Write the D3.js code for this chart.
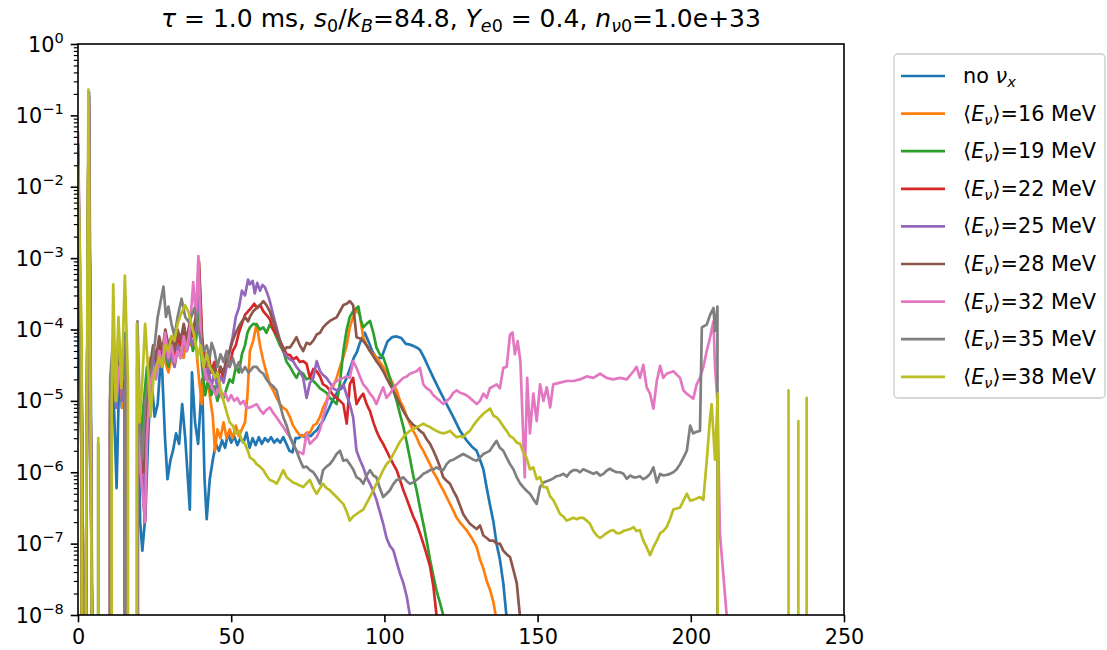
<!DOCTYPE html>
<html><head><meta charset="utf-8">
<script src="https://cdn.jsdelivr.net/npm/d3@7"></script>
<style>body{margin:0;background:#fff}svg{display:block}text{font-family:"DejaVu Sans",sans-serif;fill:#000}</style>
</head><body><svg id="c" width="1107" height="650"></svg>
<script>
// ---------- data (x, value); 0 = below the log range ----------
const xTicks = [0, 50, 100, 150, 200, 250];
const yTickExps = [0, -1, -2, -3, -4, -5, -6, -7, -8];
const seriesLabels = ["no νx", "16", "19", "22", "25", "28", "32", "35", "38"];
const seriesColors = ["#1f77b4","#ff7f0e","#2ca02c","#d62728","#9467bd","#8c564b","#e377c2","#7f7f7f","#bcbd22"];

const noNuX = [[0,1.8e-4],[1.3,1e-6],[1.9,0],[2.3,1e-10],[3.6,2.1e-1],[4.9,1e-10],[6,0],[6.6,2.5e-6],[7.4,0],[10,0],[11,2e-5],[11.8,7e-6],[12.6,6e-7],[13.5,3e-5],[14.3,8e-6],[15.3,9e-5],[16.3,0],[18.5,0],[19.3,3e-5],[20.3,2e-7],[21,8e-8],[22,2.5e-7],[23,4e-6],[24,2e-5],[25,6e-6],[26,9e-6],[27.2,5e-5],[28.4,3e-6],[29.2,8e-7],[30.2,1.5e-6],[31,2e-6],[32,3.5e-6],[33,2.5e-6],[34,9e-6],[35,3e-6],[36.5,3e-7],[37.2,2.5e-5],[38.2,5e-6],[39.2,2.5e-6],[40.5,2e-5],[41.3,8e-7],[42,2.2e-7],[43,8e-7],[44,1.5e-6],[45,2.5e-6],[46,2e-6],[47,2.8e-6],[48,2.2e-6],[49,3.5e-6],[50,2.6e-6],[51,3.2e-6],[52,2.4e-6],[53,3e-6],[54,2.6e-6],[55,3.6e-6],[56,2.2e-6],[57,3e-6],[58,2.4e-6],[59,3.1e-6],[60,2.5e-6],[61,3e-6],[62,2.7e-6],[63,3.1e-6],[64,2.6e-6],[65,2.9e-6],[66,2.6e-6],[67,3.1e-6],[68,2.5e-6],[69,2e-6],[70,1.9e-6],[71,3e-6],[72,3e-6],[73,3.3e-6],[74,3.1e-6],[75,3.3e-6],[76,3.2e-6],[77,3.6e-6],[78,3.9e-6],[79,4.6e-6],[80,5.3e-6],[81,6.5e-6],[82,8e-6],[83,1e-5],[84,1.2e-5],[85,1.4e-5],[86,1.5e-5],[87,1.8e-5],[88,2.3e-5],[89,3e-5],[90,4e-5],[91,4.8e-5],[92,6.5e-5],[93.6,9e-5],[95,6.5e-5],[96,5e-5],[97.4,4e-5],[99,4e-5],[100,5.2e-5],[101,6.8e-5],[102.5,7.8e-5],[104,8e-5],[105.5,7.6e-5],[107,6.3e-5],[108,6.2e-5],[109.4,5.9e-5],[110.5,5.6e-5],[111.6,5.2e-5],[113,4e-5],[114,3.2e-5],[116,2.1e-5],[118,1.4e-5],[120.3,9e-6],[122.5,5.9e-6],[124.7,3.8e-6],[126.8,2.8e-6],[128.5,2.3e-6],[130.1,2e-6],[131.2,1.5e-6],[132.3,1.1e-6],[133.4,6e-7],[134.4,3.6e-7],[135.6,2e-7],[136.6,1e-7],[137.7,6e-8],[138.8,2.8e-8],[139.8,1e-8],[140.5,0]];

const e16 = [[0,3e-2],[1.2,2e-6],[1.8,0],[2.3,1e-10],[3.5,1.9e-1],[4.8,1e-10],[6,0],[9.5,0],[10.5,5e-6],[11.5,5e-5],[12.5,1.5e-5],[13.5,4e-5],[14.5,8e-6],[15.5,6e-5],[16.5,0],[18.5,0],[19.5,2e-5],[20.5,1e-6],[21.5,4e-6],[22.5,2e-5],[23.5,4e-5],[24.5,2.5e-5],[25.5,5e-5],[26.5,3e-5],[27.5,6e-5],[28.5,3.5e-5],[29.5,2.5e-5],[30.5,4e-5],[31.5,3e-5],[32.5,5e-5],[33.5,7e-5],[34.5,4e-5],[35.5,8e-5],[36.5,6e-5],[37.5,1.1e-4],[38.5,6e-5],[39.5,2e-5],[40.4,9e-6],[41.3,5e-5],[42.2,2.5e-5],[43,1.2e-5],[44,6e-6],[44.7,2e-6],[45.5,4e-6],[46.5,3e-6],[47.5,5e-6],[48.5,3e-6],[49.5,4e-6],[50.5,3e-6],[51.5,4.5e-6],[52.5,3.2e-6],[53.5,4e-6],[54.5,5e-6],[55.3,1.2e-5],[56.1,5e-5],[57.2,7e-5],[58.3,1.2e-4],[59.4,6e-5],[60.5,3.6e-5],[61.5,2.5e-5],[62.6,1.7e-5],[63.7,1.4e-5],[64.8,1.1e-5],[65.9,9e-6],[67,8e-6],[68,7.5e-6],[69.2,5.9e-6],[70.2,4.5e-6],[71.3,3.8e-6],[72.4,3.3e-6],[73.5,3.2e-6],[74.6,3.6e-6],[75.7,3.6e-6],[76.8,4.5e-6],[77.9,4.8e-6],[79,6e-6],[80,8.1e-6],[81.1,1e-5],[82.2,1.4e-5],[83.3,1.6e-5],[84.4,2.1e-5],[85.5,3e-5],[86.6,4.1e-5],[87.7,6e-5],[88.7,1.07e-4],[89.8,1.5e-4],[90.9,1.9e-4],[92,1.6e-4],[93.1,7.8e-5],[94.2,6e-5],[95.3,5e-5],[96.4,4.5e-5],[97.4,4.1e-5],[98.5,3.5e-5],[99.6,3e-5],[100.7,2.5e-5],[101.8,2.1e-5],[102.9,1.7e-5],[104,1.4e-5],[105.1,1e-5],[106.2,8.1e-6],[107.3,6e-6],[108.3,4.8e-6],[109.4,3.8e-6],[110.5,3.1e-6],[111.6,2.4e-6],[112.7,2e-6],[113.8,1.6e-6],[114.9,1.3e-6],[116,1e-6],[117,8.5e-7],[118.1,6.8e-7],[119.2,5.6e-7],[120.3,4.5e-7],[121.4,3.6e-7],[122.5,2.9e-7],[123.6,2.3e-7],[125,1.9e-7],[126.8,1.55e-7],[128.5,1.2e-7],[130.1,9e-8],[131.2,6e-8],[132.3,4.5e-8],[133.4,3e-8],[134.4,2.3e-8],[135.6,1.5e-8],[136.3,1e-8],[137,0]];

const e19 = [[0,3e-2],[1.2,2e-6],[1.8,0],[2.3,1e-10],[3.5,1.9e-1],[4.8,1e-10],[6,0],[9.5,0],[10.5,8e-6],[11.5,4e-5],[12.5,1e-5],[13.2,8e-5],[14.2,2e-5],[15.2,5e-5],[16.2,0],[18.5,0],[19.5,3e-5],[20.5,3e-6],[21.5,1e-5],[22.5,3e-5],[23.5,2e-5],[24.5,4e-5],[25.5,3e-5],[26.5,6e-5],[27.5,4e-5],[28.5,5e-5],[29.5,3e-5],[30.5,5e-5],[31.5,3.5e-5],[32.5,6e-5],[33.5,4e-5],[34.5,8e-5],[35.5,5e-5],[36.5,9e-5],[37.5,5e-5],[38.5,7e-5],[39.5,2e-4],[40.5,3e-5],[41.5,1.2e-5],[42.5,2e-5],[43.5,1.2e-5],[44.5,1.6e-5],[45.5,1e-5],[46.5,1.4e-5],[47.5,1.1e-5],[48.5,1.5e-5],[49.5,2e-5],[50.5,1.8e-5],[51.5,3e-5],[52.5,2.5e-5],[53.5,4.5e-5],[54.5,6e-5],[55.3,9e-5],[56.1,1.07e-4],[57.2,1.2e-4],[58.3,1.17e-4],[59.4,1e-4],[60.5,1.07e-4],[61.5,9e-5],[62.6,1.17e-4],[63.7,1e-4],[64.8,7.8e-5],[65.9,6e-5],[67,5e-5],[68.1,3.5e-5],[69.2,3e-5],[70.2,2.5e-5],[71.3,2.1e-5],[72.4,2.6e-5],[73.5,2.4e-5],[74.6,2e-5],[75.7,2.1e-5],[76.8,1.9e-5],[77.9,1.7e-5],[79,1.5e-5],[80,1.4e-5],[81.1,1.3e-5],[82.2,1.1e-5],[83.3,1e-5],[84.4,9e-6],[85.5,1.8e-5],[86.6,5e-5],[87.7,1e-4],[88.7,1.5e-4],[89.8,1.8e-4],[90.9,2e-4],[91.5,2.1e-4],[92.2,1.4e-4],[93.1,1.07e-4],[94.2,1.2e-4],[95.3,1.32e-4],[96.4,9e-5],[97.4,5.6e-5],[98.5,4.5e-5],[99.6,4.1e-5],[100.7,3e-5],[101.8,2.1e-5],[102.9,1.4e-5],[104,1e-5],[105.1,6.5e-6],[106.2,4.3e-6],[107.3,2.6e-6],[108.3,1.6e-6],[109.4,9e-7],[110.5,5.6e-7],[111.6,3.2e-7],[112.7,1.9e-7],[113.8,1.1e-7],[114.9,5.9e-8],[116,3.5e-8],[117,2.2e-8],[118.1,1.5e-8],[119.2,1e-8],[120,0]];

const e22 = [[0,3e-2],[1.2,2e-6],[1.8,0],[2.3,1e-10],[3.5,1.9e-1],[4.8,1e-10],[6,0],[9.5,0],[10.5,1e-5],[11.5,5e-5],[12.5,2e-5],[13.5,6e-5],[14.5,1.5e-5],[15.5,4e-5],[16.5,0],[18.5,0],[19.5,2e-5],[20.5,2e-6],[21.8,2e-7],[22.5,3e-6],[23.5,2e-5],[24.5,5e-5],[25.5,3e-5],[26.5,7e-5],[27.5,4e-5],[28.5,9e-5],[29.5,5e-5],[30.5,7e-5],[31.5,4e-5],[32.5,8e-5],[33.5,6e-5],[34.5,1e-4],[35.5,6e-5],[36.5,1.2e-4],[37.5,8e-5],[38.5,1.5e-4],[39.5,9e-4],[40.5,8e-5],[41.5,3e-5],[42.5,5e-5],[43.5,2.5e-5],[44.5,3.5e-5],[45.5,2e-5],[46.5,3e-5],[47.5,2e-5],[48.5,3.5e-5],[49.5,3e-5],[50.5,5e-5],[51.5,6e-5],[52.5,9e-5],[53.5,1.2e-4],[54.5,1.6e-4],[55.5,1.8e-4],[56.5,2e-4],[57.5,2.3e-4],[58.5,2e-4],[59.5,2.2e-4],[60.5,1.8e-4],[61.5,1.6e-4],[62.6,1.4e-4],[63.7,1e-4],[64.8,8.5e-5],[65.9,7e-5],[67,5.6e-5],[68.1,4.5e-5],[69.2,4.4e-5],[70.2,3.8e-5],[71.3,4.1e-5],[72.4,3.5e-5],[73.5,3.6e-5],[74.6,3.3e-5],[75.7,2.1e-5],[76.8,2.8e-5],[77.9,2.6e-5],[79,2.2e-5],[80,1.7e-5],[81.1,1.6e-5],[82.2,1.4e-5],[83.3,1.2e-5],[84.4,1.1e-5],[85.5,1e-5],[86.6,9e-6],[87.7,4.8e-6],[88.7,1.7e-5],[89.8,2.1e-5],[90.9,9e-6],[92,1.1e-5],[93.1,1.26e-5],[94.2,9e-6],[95.3,7.2e-6],[96.4,5e-6],[97.4,3.8e-6],[98.5,3e-6],[99.6,2.5e-6],[100.7,2e-6],[101.8,1.6e-6],[102.9,1.3e-6],[104,1.07e-6],[105.1,7.8e-7],[106.2,5.6e-7],[107.3,4.2e-7],[108.3,3.2e-7],[109.4,2.4e-7],[110.5,1.9e-7],[111.6,1.4e-7],[112.7,1e-7],[113.8,7e-8],[114.9,4.8e-8],[116,2.5e-8],[117,1e-8],[117.8,0]];

const e25 = [[0,3e-2],[1.2,2e-6],[1.8,0],[2.3,1e-10],[3.5,1.9e-1],[4.8,1e-10],[6,0],[9.5,0],[10.5,5e-6],[11.5,3e-5],[12.5,8e-6],[13.5,4e-5],[14.5,1e-5],[15.5,3e-5],[16.5,0],[18.5,0],[19.5,1.5e-5],[20.5,1e-6],[21.5,5e-7],[22.5,5e-6],[23.5,2e-5],[24.5,4e-5],[25.5,2.5e-5],[26.5,5e-5],[27.5,3e-5],[28.5,6e-5],[29.5,3.5e-5],[30.5,5e-5],[31.5,3e-5],[32.5,6e-5],[33.5,4e-5],[34.5,7e-5],[35.5,5e-5],[36.5,8e-5],[37.5,6e-5],[38.5,1e-4],[39.5,4e-4],[40.5,5e-5],[41.5,2e-5],[42.5,3e-5],[43.5,1.5e-5],[44.5,2.5e-5],[45.5,1.5e-5],[46.5,2.2e-5],[47.5,1.8e-5],[48.5,3e-5],[49.5,5e-5],[50.5,8e-5],[51.5,1.5e-4],[52.5,2e-4],[53.5,3.5e-4],[54.5,3e-4],[55.5,5e-4],[56.1,4.3e-4],[57,4.8e-4],[57.7,3.2e-4],[58.5,4.5e-4],[59.4,3.5e-4],[60.2,4.2e-4],[61,3.9e-4],[61.8,3.2e-4],[62.6,2.5e-4],[63.7,1.6e-4],[64.8,1.07e-4],[65.9,7e-5],[67,5e-5],[68.1,4.2e-5],[69.2,3.8e-5],[70.2,3.6e-5],[71.3,3e-5],[72.4,2.6e-5],[73.5,2.1e-5],[74.6,1.1e-5],[75.7,1.8e-5],[76.8,2.1e-5],[77.9,3.6e-5],[79,2.6e-5],[80,2.3e-5],[81.1,2.1e-5],[82.2,1.8e-5],[83.3,1.5e-5],[84.4,1.4e-5],[85.5,1.5e-5],[86.6,1.7e-5],[87.7,1.2e-5],[88.7,9e-6],[89.8,5.9e-6],[90.9,2e-6],[92,1.5e-6],[93.1,1.17e-6],[94.2,8.5e-7],[95.3,6.9e-7],[96.4,5.4e-7],[97.4,4.1e-7],[98.5,2.8e-7],[99.6,1.9e-7],[100.7,1.2e-7],[101.8,9.3e-8],[102.9,8.1e-8],[104,5.5e-8],[105.1,3.8e-8],[106.2,2.8e-8],[107.3,1.8e-8],[108.3,1e-8],[109,0]];

const e28 = [[0,4e-2],[1.3,3e-6],[1.9,0],[2.3,1e-10],[3.5,1.9e-1],[4.8,1e-10],[6,0],[9.5,0],[10.5,1.2e-5],[11.5,6e-5],[12.5,1.2e-5],[13.5,5e-5],[14.5,1.5e-5],[15.5,5e-5],[16.5,0],[18.5,0],[19.5,2.5e-5],[20.5,3e-6],[21.5,1e-6],[22.5,8e-6],[23.5,3e-5],[24.5,6e-5],[25.5,4e-5],[26.5,8e-5],[27.5,5e-5],[28.5,1e-4],[29.5,6e-5],[30.5,8e-5],[31.5,5e-5],[32.5,1e-4],[33.5,7e-5],[34.5,1.2e-4],[35.5,7e-5],[36.5,1.3e-4],[37.5,9e-5],[38.5,1.6e-4],[39.5,7e-4],[40.5,6e-5],[41.5,3e-5],[42.5,4e-5],[43.5,2.5e-5],[44.5,3e-5],[45.5,2.2e-5],[46.5,3e-5],[47.5,2.5e-5],[48.5,4e-5],[49.5,5e-5],[50.5,7e-5],[51.5,9e-5],[52.5,1.1e-4],[53.5,1.3e-4],[54.5,1.5e-4],[55.5,1.3e-4],[56.1,1.5e-4],[57.2,1.8e-4],[58.3,2e-4],[59.4,2.2e-4],[60.5,2.5e-4],[61.5,2.2e-4],[62.6,1.8e-4],[63.7,1.3e-4],[64.8,9.5e-5],[65.9,7e-5],[67,5e-5],[68.1,5.6e-5],[69.2,5.6e-5],[70.2,6.5e-5],[71.3,7.8e-5],[72.4,6e-5],[73.5,5e-5],[74.6,6.5e-5],[75.7,6.2e-5],[76.8,7e-5],[77.9,8.5e-5],[79,9e-5],[80,1.07e-4],[81.1,1.2e-4],[82.2,1.32e-4],[83.3,1.4e-4],[84.4,1.48e-4],[85.5,1.8e-4],[86.6,2.2e-4],[87.7,2.3e-4],[88.7,2.5e-4],[89.8,2.2e-4],[90.9,7.8e-5],[92,7.5e-5],[93.1,6.9e-5],[94.2,6e-5],[95.3,5e-5],[96.4,4.2e-5],[97.4,3.6e-5],[98.5,3.1e-5],[99.6,2.6e-5],[100.7,2.1e-5],[101.8,1.7e-5],[102.9,1.4e-5],[104,1.12e-5],[105.1,9e-6],[106.2,7.2e-6],[107.3,6e-6],[108.3,5.2e-6],[109.4,4.6e-6],[110.5,4.3e-6],[111.6,3.8e-6],[112.7,3.5e-6],[113.8,2.9e-6],[114.9,2.5e-6],[116,2e-6],[117,1.6e-6],[118.1,1.2e-6],[119.2,8.5e-7],[120.3,7.6e-7],[121.4,6.9e-7],[122.5,5.5e-7],[123.6,4.5e-7],[124.7,3.4e-7],[125.7,2.6e-7],[126.8,2.2e-7],[127.9,1.9e-7],[130.1,1.6e-7],[131.2,1.8e-7],[132.3,1.3e-7],[133.4,1.2e-7],[134.4,1.1e-7],[135.6,1.1e-7],[136.6,1e-7],[137.7,1e-7],[138.8,8e-8],[140,7e-8],[141,6.5e-8],[142.1,4.3e-8],[143.2,2.8e-8],[144.2,1e-8],[145,0]];

const e32 = [[0,6e-2],[1.5,3e-6],[2,0],[2.3,1e-10],[3.5,1.9e-1],[4.8,1e-10],[6,0],[9.5,0],[10.5,1e-5],[11.5,4e-5],[12.5,1e-5],[13.5,3e-5],[14.5,2e-5],[15.5,6e-5],[16.5,0],[18.5,0],[19.5,1e-5],[20.5,1e-6],[21.9,2e-7],[22.5,3e-6],[23.5,1.5e-5],[24.5,3e-5],[25.5,2e-5],[26.5,5e-5],[27.5,3e-5],[28.4,9e-5],[29.5,4e-5],[30.5,6e-5],[31.5,3.5e-5],[32.5,5e-5],[33.5,4e-5],[34.5,8e-5],[35.5,5e-5],[36.5,1e-4],[37.6,4.6e-4],[38.5,1.5e-4],[39.3,1.07e-3],[40.2,6e-5],[41,3e-5],[42,2e-5],[43,1.8e-5],[44,1.5e-5],[45,1.2e-5],[46,1.5e-5],[47,1.1e-5],[48,1.3e-5],[49,1e-5],[50,1.2e-5],[51,1e-5],[52,1.1e-5],[53,9e-6],[54,1e-5],[55,8e-6],[56.1,8.1e-6],[57.2,8.5e-6],[58.3,9e-6],[59.4,7.5e-6],[60.5,6.6e-6],[61.5,7.5e-6],[62.6,8.1e-6],[63.7,6.8e-6],[64.8,5.9e-6],[65.9,5e-6],[67,4.3e-6],[68.1,3.6e-6],[69.2,3.1e-6],[70.2,2.5e-6],[71.3,2e-6],[72.4,1.9e-6],[73.5,1.8e-6],[74.6,3.5e-6],[75.7,2.5e-6],[76.8,2.8e-6],[77.9,3.1e-6],[79,4e-6],[80,5.9e-6],[81.1,9e-6],[82.2,1.4e-5],[83.3,1.7e-5],[84.4,1.9e-5],[85.5,2e-5],[86.6,2.1e-5],[87.7,2.2e-5],[88.7,2.1e-5],[89.8,3.6e-5],[90.9,2.9e-5],[92,2.2e-5],[93.1,1.7e-5],[94.2,1.5e-5],[95.3,1.26e-5],[96.4,1.1e-5],[97.4,9e-6],[98.5,1.2e-5],[99.6,1.55e-5],[100.7,1.1e-5],[101.8,1.26e-5],[102.9,1.5e-5],[104,1.7e-5],[105.1,1.9e-5],[106.2,2.1e-5],[107.3,2.2e-5],[108.3,2.4e-5],[109.4,2.5e-5],[110.5,2.6e-5],[111.6,2.9e-5],[112.7,1.7e-5],[113.8,1.5e-5],[114.9,1.4e-5],[116,1.2e-5],[117,1.1e-5],[118.1,1e-5],[119.2,9e-6],[120.3,1e-5],[121.4,1.1e-5],[122.5,1.3e-5],[123.6,1.4e-5],[124.7,1.3e-5],[125.7,1.26e-5],[126.8,1.2e-5],[127.9,1.1e-5],[129,1e-5],[130.1,9e-6],[131.2,1e-5],[132.3,1.26e-5],[133.4,1.1e-5],[134.4,1.5e-5],[135.6,1.6e-5],[136.6,1.7e-5],[137.7,1.5e-5],[138.8,2.9e-5],[139.9,3e-5],[141,8.5e-5],[141.8,9.1e-5],[142.6,4.5e-5],[143.5,6.9e-5],[144.4,3.5e-5],[145.8,8.5e-7],[146.6,2.1e-5],[147.5,3.5e-6],[148.6,1.26e-5],[149.7,5.2e-6],[150.8,1.7e-5],[151.9,1e-5],[153,1.55e-5],[154.1,8.1e-6],[155.1,1.7e-5],[157.3,1.8e-5],[159.5,1.9e-5],[161.7,1.9e-5],[163.8,2e-5],[166,2.2e-5],[168.2,2.1e-5],[170.4,2.4e-5],[172.5,2.1e-5],[174.7,2e-5],[176.9,2.1e-5],[179.1,2e-5],[181.3,2.6e-5],[182.3,3e-5],[183.4,2.1e-5],[184.5,3.2e-5],[185.6,1.55e-5],[186.7,1.26e-5],[187.8,7.8e-6],[188.9,1.9e-5],[190,3.1e-5],[191,2.1e-5],[192.1,2.4e-5],[194.3,2.6e-5],[196.5,2.1e-5],[197.6,1.4e-5],[198.7,1.26e-5],[200.8,1.07e-5],[201.9,1.7e-5],[203,2.1e-5],[204.1,3e-5],[205.2,5e-5],[206.3,7.8e-5],[207.4,1.3e-4],[207.9,3e-5],[208.7,1e-5],[209.5,1.4e-7],[211.7,1e-8],[212.3,0]];

const e35 = [[0,4e-2],[1.4,3e-6],[1.9,0],[2.3,1e-10],[3.5,1.9e-1],[4.8,1e-10],[6,0],[9.5,0],[10.5,2e-5],[11.5,8e-5],[12.5,3e-5],[13.2,6e-5],[14.5,2e-5],[15.5,7e-5],[16.5,0],[18.5,0],[19.4,1.3e-4],[20.3,4e-6],[21,1.5e-6],[22,1e-5],[23,2e-5],[24,2.8e-5],[25,6e-5],[26,1.5e-4],[27,2.5e-4],[27.9,4e-4],[28.7,1.5e-4],[29.5,2.1e-4],[30.5,1.2e-4],[31.5,8e-5],[32.5,1.5e-4],[33.8,2.7e-4],[35,1.5e-4],[36,1.3e-4],[37,1.5e-4],[38,2e-4],[39,1.2e-4],[40,7e-5],[41,5e-5],[42,6e-5],[43,4e-5],[43.6,6.5e-5],[44.5,5e-5],[45.5,3e-5],[46.5,4.5e-5],[47.5,3.5e-5],[48.5,5e-5],[49.5,3e-5],[50.5,4e-5],[51.5,2.8e-5],[52.5,3.5e-5],[53.5,2.5e-5],[54.5,3e-5],[55.6,2.5e-5],[56.1,2.6e-5],[57.2,3e-5],[58.3,3e-5],[59.4,2.6e-5],[60.5,2.4e-5],[61.5,2e-5],[62.6,1.75e-5],[63.7,1.6e-5],[64.8,1.4e-5],[65.9,9e-6],[67,5.9e-6],[68.1,4.5e-6],[69.2,3.1e-6],[70.2,2.5e-6],[71.3,2e-6],[72.4,1.5e-6],[73.5,1.17e-6],[74.6,1.2e-6],[75.7,1.07e-6],[76.8,1e-6],[77.9,8.5e-7],[79,6.9e-7],[80,1.07e-6],[81.1,1.2e-6],[82.2,1.3e-6],[83.3,1.5e-6],[84.4,1.8e-6],[85.5,2e-6],[86.6,1.45e-6],[87.7,1.5e-6],[88.7,1.3e-6],[89.8,1.1e-6],[90.9,8.5e-7],[92,8e-7],[93.1,6.9e-7],[94.2,9e-7],[95.3,1.07e-6],[96.4,9e-7],[97.4,8.5e-7],[98.5,6e-7],[99.6,4.5e-7],[100.7,5e-7],[101.8,5.6e-7],[102.9,6.8e-7],[104,7.8e-7],[105.1,8e-7],[106.2,8.5e-7],[107.3,7.5e-7],[108.3,6.9e-7],[109.4,7.2e-7],[110.5,7.8e-7],[111.6,8.5e-7],[112.7,9.5e-7],[113.8,1e-6],[114.9,1.07e-6],[116,1.1e-6],[117,1.17e-6],[118.1,1.1e-6],[119.2,1.07e-6],[120.3,1.3e-6],[121.4,1.45e-6],[122.5,1.5e-6],[123.6,1.6e-6],[124.7,1.7e-6],[125.7,1.8e-6],[126.8,1.7e-6],[127.9,1.6e-6],[129,1.5e-6],[130.1,1.45e-6],[131.2,1.6e-6],[132.3,1.8e-6],[133.4,1.9e-6],[134.4,2e-6],[135.6,2.4e-6],[136.6,2.75e-6],[137.7,2.2e-6],[138.8,2e-6],[139.9,1.6e-6],[141,1.3e-6],[142.1,1.1e-6],[143.2,8.5e-7],[144.3,7e-7],[145.3,6.2e-7],[146.4,5.5e-7],[147.5,5e-7],[148.6,4.2e-7],[149.7,3.6e-7],[150.8,6.2e-7],[151.9,7.2e-7],[153,7.5e-7],[154.1,7.8e-7],[155.1,8.2e-7],[156.2,8.8e-7],[157.3,9e-7],[158.4,9.5e-7],[159.5,8.7e-7],[160.6,1e-6],[161.7,1.07e-6],[162.8,1.07e-6],[163.8,1e-6],[164.9,1.1e-6],[166,1.05e-6],[167.1,1e-6],[168.2,9.5e-7],[169.3,1e-6],[170.4,9e-7],[171.5,9.5e-7],[172.5,1.05e-6],[173.6,1.12e-6],[174.7,1.05e-6],[175.8,1e-6],[176.9,1e-6],[178,9.5e-7],[179.1,8.1e-7],[180.2,9e-7],[181.3,8.5e-7],[182.3,8.5e-7],[183.4,8.8e-7],[184.5,8e-7],[185.6,8.5e-7],[186.7,9.5e-7],[187.8,1.17e-6],[188.9,7.2e-7],[190,9.5e-7],[191,9e-7],[192.1,9.2e-7],[193.2,9.5e-7],[194.3,1e-6],[195.4,1.1e-6],[196.5,1.3e-6],[197.6,1.6e-6],[198.7,2e-6],[199.8,4.5e-6],[200.8,3.5e-6],[201.9,3.7e-6],[203,3.8e-6],[203.6,1.07e-4],[205.2,1.17e-4],[206.3,1.6e-4],[207.4,2e-4],[207.9,9.5e-5],[208.7,2.1e-4],[209.5,0]];

const e38 = [[0,2e-2],[1.2,8e-5],[1.8,0],[2.3,1e-10],[3.4,2.3e-1],[4.8,1e-10],[6,0],[6.6,3e-6],[7.3,0],[10,0],[11,1e-5],[11.5,4.3e-4],[12.3,1e-5],[13.2,1.5e-4],[14.2,1.5e-5],[15.3,5.7e-4],[16.3,2e-5],[17.3,0],[18.3,0],[19.2,1.2e-4],[20.1,5e-6],[21,2e-5],[21.9,1.2e-4],[22.8,3e-5],[23.7,6e-6],[24.6,2e-5],[25.5,3e-5],[26.5,4e-5],[27.5,3e-5],[28.5,6e-5],[29.5,5e-5],[30.5,8e-5],[31.5,7e-5],[32.5,1.2e-4],[33.5,1.6e-4],[34.9,2.2e-4],[36,1.8e-4],[37,1.2e-4],[38,8e-5],[39,4e-5],[40,6e-5],[41,3e-5],[42,4.5e-5],[43,3e-5],[44,2.5e-5],[44.7,2.1e-5],[45.5,2.5e-5],[46.5,1.5e-5],[47.5,1e-5],[48.5,7e-6],[49.5,5e-6],[50.5,4.5e-6],[51.5,3.5e-6],[52.5,3.8e-6],[53.5,2.8e-6],[54.5,2.5e-6],[55.6,1.9e-6],[56.1,1.6e-6],[57.2,1.5e-6],[58.3,1.3e-6],[59.4,1.2e-6],[60.5,1.07e-6],[61.5,9e-7],[62.6,7.8e-7],[63.7,7.5e-7],[64.8,6.9e-7],[65.9,8.5e-7],[67,1.07e-6],[68.1,8.5e-7],[69.2,7.8e-7],[70.2,7.2e-7],[71.3,6.9e-7],[72.4,6.5e-7],[73.5,6.2e-7],[74.6,7e-7],[75.7,7.8e-7],[76.8,6e-7],[77.9,5e-7],[79,6e-7],[80,6.9e-7],[81.1,6e-7],[82.2,5.6e-7],[83.3,5e-7],[84.4,4.5e-7],[85.5,4e-7],[86.6,3.6e-7],[87.7,2.8e-7],[88.7,2.1e-7],[89.8,2.4e-7],[90.9,2.6e-7],[92,2.8e-7],[93.1,3e-7],[94.2,3.7e-7],[95.3,4.5e-7],[96.4,5.6e-7],[97.4,6.9e-7],[98.5,8.5e-7],[99.6,1.07e-6],[100.7,1.3e-6],[101.8,1.45e-6],[102.9,1.8e-6],[104,2.2e-6],[105.1,2.7e-6],[106.2,3.1e-6],[107.3,3.5e-6],[108.3,3.8e-6],[109.4,4e-6],[110.5,4.3e-6],[111.6,4.5e-6],[112.7,4.8e-6],[113.8,4.5e-6],[114.9,4.3e-6],[116,4e-6],[117,3.8e-6],[118.1,3.6e-6],[119.2,3.5e-6],[120.3,3.6e-6],[121.4,3.8e-6],[122.5,3.4e-6],[123.6,3.1e-6],[124.7,3.2e-6],[125.7,3.1e-6],[126.8,3.5e-6],[127.9,3.8e-6],[129,4.5e-6],[130.1,5.2e-6],[131.2,5.9e-6],[132.3,6.6e-6],[133.4,7.2e-6],[134.5,7.8e-6],[135.6,6.2e-6],[136.6,5.9e-6],[137.7,5.2e-6],[138.8,4.4e-6],[139.9,3.8e-6],[141,3.2e-6],[142.1,3e-6],[143.2,2.6e-6],[144.3,2.5e-6],[145.3,1.9e-6],[146.4,1.6e-6],[147.5,1.1e-6],[148.6,1.17e-6],[149.7,8e-7],[150.8,8.5e-7],[151.9,6.2e-7],[153,6.2e-7],[154.1,4.6e-7],[155.1,4.1e-7],[156.2,3.3e-7],[157.3,2.6e-7],[158.4,2.4e-7],[159.5,2.1e-7],[160.6,2.2e-7],[161.7,2.3e-7],[162.8,2.2e-7],[163.8,2.3e-7],[164.9,2.3e-7],[166,2.1e-7],[167.1,1.9e-7],[168.2,1.5e-7],[169.3,1.3e-7],[170.4,1.2e-7],[171.5,1.3e-7],[172.5,1.4e-7],[173.6,1.5e-7],[174.7,1.55e-7],[175.8,1.4e-7],[176.9,1.4e-7],[178,1.5e-7],[179.1,1.55e-7],[180.2,1.6e-7],[181.3,1.7e-7],[182.3,1.5e-7],[183.4,1.55e-7],[184.5,1.1e-7],[185.6,8.9e-8],[186.7,6.9e-8],[187.8,8.9e-8],[188.9,1.1e-7],[190,1.4e-7],[191,1.5e-7],[192.1,1.7e-7],[193.2,2.2e-7],[194.3,3e-7],[195.4,3.1e-7],[196.5,3.2e-7],[197.6,4e-7],[198.7,5e-7],[199.8,4e-7],[200.8,4.1e-7],[201.9,4.3e-7],[203,4.5e-7],[204.1,4.1e-7],[205.2,1.45e-6],[206.3,5.9e-6],[206.8,9e-6],[207.9,1.5e-6],[208.8,1.26e-5],[209.5,0],[231.1,0],[231.9,1.4e-5],[232.6,0],[234.4,0],[235.1,5.2e-6],[235.8,0],[237.1,0],[237.8,1.1e-5],[238.5,0]];

const allSeries = [noNuX, e16, e19, e22, e25, e28, e32, e35, e38];

// ---------- layout ----------
const TOP = 44, BOTTOM = 615, LEFT = 78, RIGHT = 844;
const FS = 20.8;
const svg = d3.select("#c");
const x = d3.scaleLinear().domain([0, 250]).range([LEFT, RIGHT]);
const y = d3.scaleLog().domain([1e-8, 1]).range([BOTTOM, TOP]);

svg.append("defs").append("clipPath").attr("id", "plotclip")
  .append("rect").attr("x", LEFT).attr("y", TOP).attr("width", RIGHT - LEFT).attr("height", BOTTOM - TOP);

const line = d3.line().x(d => x(d[0])).y(d => y(d[1] > 0 ? d[1] : 1e-300));
const gLines = svg.append("g").attr("clip-path", "url(#plotclip)");
allSeries.forEach((s, i) => {
  gLines.append("path").attr("d", line(s)).attr("fill", "none")
    .attr("stroke", seriesColors[i]).attr("stroke-width", 2.7)
    .attr("stroke-linejoin", "round").attr("stroke-linecap", "butt");
});

// spines
svg.append("rect").attr("x", LEFT).attr("y", TOP).attr("width", RIGHT - LEFT).attr("height", BOTTOM - TOP)
  .attr("fill", "none").attr("stroke", "#000").attr("stroke-width", 1.6);

// x axis
const xAxis = svg.append("g").attr("transform", `translate(0,${BOTTOM})`)
  .call(d3.axisBottom(x).tickValues(xTicks).tickSize(7.3).tickPadding(7).tickSizeOuter(0).tickFormat(d3.format("d")));
xAxis.select(".domain").remove();
xAxis.selectAll(".tick line").attr("stroke", "#000").attr("stroke-width", 1.6);
xAxis.selectAll(".tick text").attr("font-size", FS).attr("font-family", "DejaVu Sans").attr("fill", "#000");

// y axis minor
const minors = [];
for (let e = -8; e < 0; e++) for (let m = 2; m <= 9; m++) minors.push(m * Math.pow(10, e));
const yMinor = svg.append("g").attr("transform", `translate(${LEFT},0)`)
  .call(d3.axisLeft(y).tickValues(minors).tickSize(4.2).tickFormat(() => "").tickSizeOuter(0));
yMinor.select(".domain").remove();
yMinor.selectAll(".tick line").attr("stroke", "#000").attr("stroke-width", 1.2);

// y axis major
const yMajor = svg.append("g").attr("transform", `translate(${LEFT},0)`)
  .call(d3.axisLeft(y).tickValues(yTickExps.map(e => Math.pow(10, e))).tickSize(7.3).tickPadding(7).tickSizeOuter(0));
yMajor.select(".domain").remove();
yMajor.selectAll(".tick line").attr("stroke", "#000").attr("stroke-width", 1.6);
yMajor.selectAll(".tick text").each(function(d) {
  const e = Math.round(Math.log10(d));
  const t = d3.select(this).text(null).attr("font-size", FS).attr("font-family", "DejaVu Sans")
    .attr("fill", "#000").attr("dy", null).attr("y", 7);
  t.append("tspan").text("10");
  t.append("tspan").attr("dy", -9).attr("font-size", FS * 0.7).text(e === 0 ? "0" : "\u2212" + (-e));
});

// title
const title = svg.append("text").attr("x", (LEFT + RIGHT) / 2).attr("y", TOP - 17)
  .attr("text-anchor", "middle").attr("font-size", 25);
function part(t, txt, opts) {
  const s = t.append("tspan").text(txt);
  if (opts && opts.it) s.attr("font-style", "italic");
  if (opts && opts.sub) s.attr("font-size", 25 * 0.7);
  if (opts && opts.dy) s.attr("dy", opts.dy);
  return s;
}
part(title, "τ", {it: 1});
part(title, " = 1.0 ms, ");
part(title, "s", {it: 1});
part(title, "0", {sub: 1, dy: 5});
part(title, "/", {dy: -5});
part(title, "k", {it: 1});
part(title, "B", {it: 1, sub: 1, dy: 5});
part(title, "=84.8, ", {dy: -5});
part(title, "Y", {it: 1});
part(title, "e", {it: 1, sub: 1, dy: 5});
part(title, "0", {sub: 1});
part(title, " = 0.4, ", {dy: -5});
part(title, "n", {it: 1});
part(title, "ν", {it: 1, sub: 1, dy: 5});
part(title, "0", {sub: 1});
part(title, "=1.0e+33", {dy: -5});

// legend
const LX = 894, LY = TOP + 10, LW = 211, LH = 344;
const lg = svg.append("g");
lg.append("rect").attr("x", LX).attr("y", LY).attr("width", LW).attr("height", LH)
  .attr("rx", 4).attr("fill", "#fff").attr("fill-opacity", 0.8).attr("stroke", "#ccc").attr("stroke-width", 1.3);
seriesLabels.forEach((lab, i) => {
  const cy = LY + 22 + i * 37.6;
  lg.append("line").attr("x1", 901).attr("x2", 945).attr("y1", cy).attr("y2", cy)
    .attr("stroke", seriesColors[i]).attr("stroke-width", 2.7);
  const t = lg.append("text").attr("x", 963).attr("y", cy + 7).attr("font-size", FS);
  if (i === 0) {
    t.append("tspan").text("no ");
    t.append("tspan").attr("font-style", "italic").text("ν");
    t.append("tspan").attr("font-style", "italic").attr("font-size", FS * 0.7).attr("dy", 4).text("x");
  } else {
    t.append("tspan").text("⟨");
    t.append("tspan").attr("font-style", "italic").text("E");
    t.append("tspan").attr("font-style", "italic").attr("font-size", FS * 0.7).attr("dy", 4).text("ν");
    t.append("tspan").attr("dy", -4).text("⟩=" + lab + " MeV");
  }
});
</script></body></html>
